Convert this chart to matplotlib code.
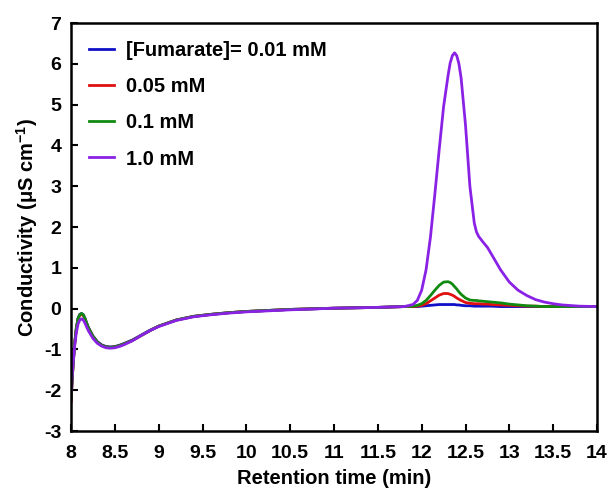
import matplotlib
matplotlib.use("Agg")
import matplotlib.pyplot as plt

plt.rcParams['font.family'] = ['Liberation Sans', 'DejaVu Sans']
plt.rcParams['font.weight'] = 'bold'
plt.rcParams['axes.unicode_minus'] = False
plt.rcParams['mathtext.fontset'] = 'custom'
plt.rcParams['mathtext.rm'] = 'Liberation Sans'
plt.rcParams['mathtext.bf'] = 'Liberation Sans:bold'

# retention time grid (min)
t = [8.0, 8.02, 8.04, 8.06, 8.08, 8.1, 8.12, 8.14, 8.16, 8.18, 8.2, 8.25, 8.3, 8.35,
     8.4, 8.45, 8.5, 8.55, 8.6, 8.7, 8.8, 8.9, 9.0, 9.2, 9.4, 9.6, 9.8, 10.0, 10.5,
     11.0, 11.5, 11.8, 11.9, 11.95, 12.0, 12.05, 12.1, 12.15, 12.2, 12.25, 12.3, 12.325,
     12.35, 12.375, 12.4, 12.425, 12.45, 12.5, 12.55, 12.6, 12.625, 12.65, 12.7, 12.75,
     12.8, 12.9, 13.0, 13.1, 13.2, 13.3, 13.4, 13.5, 13.6, 13.8, 14.0]

# conductivity (uS/cm) for each fumarate concentration
c_001 = [-2.25, -1.5, -0.88, -0.48, -0.24, -0.14, -0.12, -0.15, -0.24, -0.36, -0.47,
         -0.67, -0.81, -0.89, -0.93, -0.94, -0.93, -0.9, -0.86, -0.77, -0.65, -0.53,
         -0.43, -0.28, -0.19, -0.14, -0.1, -0.07, -0.02, 0.01, 0.03, 0.05, 0.05, 0.05,
         0.06, 0.07, 0.08, 0.09, 0.1, 0.1, 0.1, 0.1, 0.1, 0.1, 0.09, 0.09, 0.08, 0.07,
         0.07, 0.06, 0.06, 0.06, 0.06, 0.06, 0.06, 0.05, 0.05, 0.05, 0.05, 0.05, 0.05,
         0.05, 0.05, 0.05, 0.05]
c_005 = [-2.3, -1.52, -0.9, -0.5, -0.26, -0.16, -0.14, -0.17, -0.26, -0.38, -0.48,
         -0.68, -0.82, -0.9, -0.94, -0.95, -0.94, -0.91, -0.87, -0.78, -0.66, -0.54,
         -0.43, -0.28, -0.19, -0.14, -0.1, -0.07, -0.02, 0.01, 0.03, 0.05, 0.05, 0.06,
         0.08, 0.12, 0.19, 0.26, 0.33, 0.37, 0.37, 0.35, 0.33, 0.3, 0.26, 0.23, 0.2,
         0.15, 0.13, 0.12, 0.12, 0.12, 0.11, 0.11, 0.1, 0.09, 0.08, 0.07, 0.06, 0.06,
         0.05, 0.05, 0.05, 0.05, 0.05]
c_01 = [-2.2, -1.5, -0.9, -0.5, -0.25, -0.15, -0.12, -0.15, -0.25, -0.37, -0.48,
        -0.68, -0.82, -0.9, -0.94, -0.95, -0.94, -0.91, -0.87, -0.78, -0.66, -0.54,
        -0.43, -0.28, -0.19, -0.14, -0.1, -0.07, -0.02, 0.01, 0.03, 0.05, 0.06, 0.08,
        0.12, 0.2, 0.32, 0.45, 0.57, 0.65, 0.66, 0.64, 0.6, 0.54, 0.48, 0.41, 0.35,
        0.26, 0.21, 0.2, 0.2, 0.19, 0.18, 0.17, 0.16, 0.14, 0.11, 0.09, 0.07, 0.06,
        0.05, 0.05, 0.05, 0.05, 0.05]
c_10 = [-2.05, -1.45, -0.95, -0.6, -0.38, -0.28, -0.25, -0.28, -0.36, -0.46, -0.55,
        -0.73, -0.85, -0.92, -0.96, -0.97, -0.96, -0.93, -0.89, -0.79, -0.66, -0.54,
        -0.44, -0.29, -0.2, -0.15, -0.11, -0.08, -0.03, 0.01, 0.03, 0.05, 0.1, 0.2,
        0.45, 0.95, 1.75, 2.8, 3.9, 4.95, 5.7, 6.02, 6.2, 6.27, 6.2, 6.0, 5.65, 4.5,
        3.0, 2.1, 1.88, 1.77, 1.63, 1.5, 1.32, 0.95, 0.65, 0.45, 0.32, 0.22, 0.16,
        0.12, 0.09, 0.06, 0.05]

labels = ['[Fumarate]= 0.01 mM', '0.05 mM', '0.1 mM', '1.0 mM']
colors = ['#1010c8', '#e01010', '#108a10', '#8a22e6']

fig = plt.figure(figsize=(6.09, 4.88), dpi=100)
ax = fig.add_axes([0.1166, 0.1168, 0.8637, 0.836])

for y, lab, col in zip([c_001, c_005, c_01, c_10], labels, colors):
    ax.plot(t, y, color=col, lw=2.0, label=lab)

ax.set_xlim(8, 14)
ax.set_ylim(-3, 7)
ax.set_xticks([8 + 0.5 * i for i in range(13)])
ax.set_xticklabels(['8', '8.5', '9', '9.5', '10', '10.5', '11', '11.5', '12',
                    '12.5', '13', '13.5', '14'])
ax.set_yticks(range(-3, 8))

for s in ax.spines.values():
    s.set_linewidth(1.8)
ax.tick_params(direction='in', length=5, width=1.5, labelsize=14)
ax.tick_params(axis='x', pad=10)
ax.tick_params(axis='y', pad=7)

ax.set_xlabel('Retention time (min)', fontsize=14.5, fontweight='bold', labelpad=5)
ax.set_ylabel(r'Conductivity (μS cm$^{\mathbf{-1}}$)', fontsize=14.5,
              fontweight='bold', labelpad=3)

ax.legend(loc='upper left', frameon=False, handlelength=1.25,
          handletextpad=0.6, labelspacing=0.85, borderaxespad=0.5,
          prop={'weight': 'bold', 'size': 14.5})

fig.savefig('out.png', dpi=100)
